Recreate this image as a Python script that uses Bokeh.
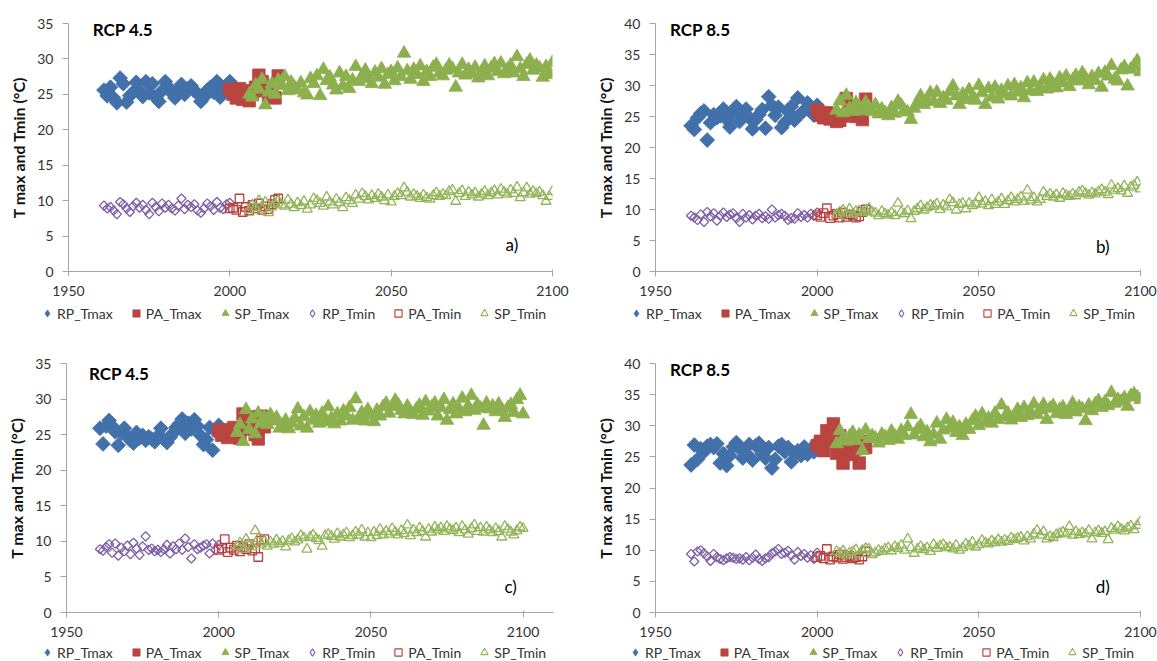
import numpy as np
from bokeh.plotting import figure
from bokeh.models import Range1d, FixedTicker, Legend, LegendItem, Label
from bokeh.layouts import column, row
from bokeh.embed import file_html
from bokeh.resources import INLINE

RP_START = 1961
PA_START = 2000
SP_START = 2006

X_TICKS = [1950, 2000, 2050, 2100]
SERIES_NAMES = ["RP_Tmax", "PA_Tmax", "SP_Tmax", "RP_Tmin", "PA_Tmin", "SP_Tmin"]

# ---------------- Panel a (RCP 4.5, top) ----------------
a_rp_tmax = [25.6, 24.8, 26.0, 24.5, 23.8, 27.3, 26.5, 23.9, 24.8, 25.3,
             26.7, 25.5, 24.7, 26.8, 25.2, 26.5, 24.6, 24.0, 25.5, 26.8,
             26.0, 25.2, 24.5, 25.6, 26.4, 25.0, 25.8, 26.2, 25.5, 25.1,
             24.0, 24.6, 25.6, 26.0, 25.3, 26.8, 24.6, 25.8, 26.2, 26.8]
a_pa_tmax = [25.7, 25.0, 24.5, 25.8, 24.3, 25.5, 24.1, 25.0, 26.0, 27.7,
             26.8, 25.5, 24.8, 25.2, 24.5, 27.6]
a_sp_tmax = [25.0, 24.6, 26.3, 25.7, 27.1, 23.5, 25.3, 26.5, 25.0, 27.0,
             26.2, 27.5, 25.5, 26.7, 26.0, 25.6, 26.6, 25.2, 24.9, 27.2,
             26.5, 27.6, 24.8, 28.5, 26.9, 27.4, 26.3, 25.6, 28.0, 26.2,
             27.5, 25.8, 27.0, 28.9, 26.8, 27.6, 28.4, 27.2, 26.5, 28.1,
             27.4, 28.6, 26.4, 27.8, 28.2, 26.9, 28.7, 27.5, 30.8, 28.3,
             27.1, 28.5, 27.8, 29.0, 26.8, 28.2, 27.5, 28.8, 29.2, 28.0,
             27.6, 28.4, 29.1, 28.6, 26.0, 28.0, 29.2, 27.7, 28.5, 27.9,
             28.8, 27.3, 28.1, 29.0, 27.6, 28.7, 29.3, 28.2, 29.4, 27.9,
             28.5, 29.1, 28.0, 30.3, 28.6, 27.5, 29.2, 29.8, 28.4, 29.1,
             28.7, 27.4, 28.9, 27.8, 29.5]
a_rp_tmin = [9.3, 8.9, 9.1, 8.6, 8.1, 9.8, 9.5, 8.9, 8.4, 9.2,
             9.7, 9.0, 9.4, 8.7, 8.1, 9.7, 9.1, 8.5, 9.6, 9.0,
             9.4, 8.9, 8.6, 9.3, 10.3, 8.8, 9.4, 9.1, 9.5, 8.6,
             8.3, 8.9, 9.6, 9.2, 8.7, 9.8, 9.0, 8.8, 9.5, 9.7]
a_pa_tmin = [8.9, 9.0, 8.7, 10.3, 8.4, 9.1, 8.6, 9.4, 8.9, 9.6,
             8.7, 9.2, 8.8, 9.5, 10.1, 10.3]
a_sp_tmin = [8.7, 9.4, 9.0, 10.0, 8.8, 9.8, 8.3, 9.1, 9.6, 10.0,
             9.4, 9.2, 10.1, 9.5, 9.0, 9.7, 9.3, 9.9, 8.8, 9.4,
             10.3, 10.0, 9.6, 9.2, 10.5, 9.8, 9.4, 10.2, 9.7, 9.0,
             10.4, 10.0, 9.6, 10.8, 10.2, 11.0, 10.6, 10.1, 10.7, 10.3,
             10.9, 10.5, 10.0, 10.8, 9.8, 10.6, 11.0, 10.7, 11.8, 11.2,
             10.5, 10.9, 10.6, 10.3, 10.8, 10.4, 10.2, 10.7, 11.1, 10.6,
             10.9, 10.7, 11.3, 11.5, 9.9, 11.0, 11.4, 10.6, 11.2, 10.8,
             11.1, 10.5, 10.9, 11.3, 10.7, 11.1, 11.4, 10.8, 11.6, 11.2,
             10.9, 11.5, 11.0, 11.9, 10.4, 11.1, 11.8, 10.9, 11.3, 11.0,
             11.2, 10.7, 9.9, 10.6, 11.3]

# ---------------- Panel b (RCP 8.5, top) ----------------
b_rp_tmax = [23.5, 22.9, 24.8, 25.5, 25.9, 21.2, 24.0, 25.3, 24.8, 25.1,
             26.2, 24.5, 23.3, 25.6, 26.6, 24.2, 25.1, 26.2, 24.8, 23.0,
             24.5, 25.3, 26.1, 23.1, 28.2, 26.8, 25.2, 26.5, 23.2, 24.0,
             25.8, 26.6, 24.4, 28.0, 25.5, 26.0, 27.2, 26.5, 25.2, 26.8]
b_pa_tmax = [26.0, 25.2, 24.8, 25.6, 24.6, 25.3, 24.2, 24.4, 25.1, 27.9,
             26.2, 25.5, 25.0, 26.7, 24.5, 27.8]
b_sp_tmax = [26.0, 27.5, 25.6, 28.4, 26.3, 25.8, 27.2, 26.6, 25.9, 27.3,
             26.5, 25.8, 26.9, 25.4, 26.2, 25.6, 25.1, 26.4, 25.5, 27.4,
             26.8, 26.0, 25.7, 24.5, 26.3, 27.3, 28.3, 26.9, 27.6, 28.8,
             27.4, 28.9, 27.1, 28.0, 27.6, 29.0, 29.9, 28.3, 26.9, 28.6,
             27.7, 29.3, 28.1, 27.6, 30.0, 28.8, 26.9, 29.5, 28.1, 29.7,
             27.8, 29.2, 28.6, 29.9, 28.3, 30.1, 28.9, 29.6, 28.0, 30.4,
             29.1, 30.5, 29.0, 29.7, 30.9, 29.4, 31.0, 30.2, 29.6, 31.2,
             30.4, 31.5, 29.8, 30.9, 31.6, 30.7, 32.0, 31.2, 30.1, 31.4,
             30.8, 31.9, 29.7, 32.1, 31.5, 33.2, 31.0, 30.7, 32.5, 33.0,
             29.9, 32.6, 33.2, 34.0, 32.2]
b_rp_tmin = [9.0, 8.7, 8.3, 9.2, 8.0, 9.6, 8.9, 9.4, 8.2, 9.0,
             9.5, 8.8, 9.2, 9.4, 8.6, 8.0, 9.3, 8.7, 9.1, 8.4,
             9.0, 9.3, 8.6, 8.9, 8.5, 10.0, 8.7, 9.1, 9.3, 9.0,
             8.3, 8.6, 8.5, 9.4, 8.8, 9.1, 8.7, 9.3, 9.0, 9.5]
b_pa_tmin = [9.1, 8.8, 9.4, 10.2, 8.6, 9.0, 9.3, 8.7, 9.5, 8.8,
             9.2, 9.0, 8.7, 8.9, 9.6, 10.0]
b_sp_tmin = [9.2, 9.6, 9.9, 9.4, 10.1, 9.3, 9.7, 9.8, 9.5, 9.9,
             10.2, 9.6, 9.4, 9.0, 9.7, 9.3, 9.1, 9.5, 9.0, 11.0,
             9.6, 9.3, 9.8, 8.5, 9.7, 10.1, 10.6, 9.9, 10.3, 10.7,
             10.5, 10.9, 10.0, 10.7, 10.4, 11.6, 11.1, 9.9, 10.8, 11.0,
             10.1, 11.0, 10.6, 10.9, 11.9, 10.9, 11.3, 10.6, 11.6, 10.8,
             11.2, 11.7, 10.8, 11.4, 11.9, 11.2, 11.6, 12.0, 11.3, 13.1,
             11.5, 11.9, 11.2, 11.6, 12.8, 12.1, 12.5, 12.0, 12.4, 11.8,
             12.6, 12.3, 12.1, 12.5, 12.2, 12.8, 13.0, 12.6, 12.3, 12.7,
             12.5, 12.9, 13.2, 12.8, 12.4, 13.9, 13.1, 13.4, 13.0, 13.8,
             12.6, 13.6, 13.9, 14.4, 13.3]

# ---------------- Panel c (RCP 4.5, bottom) ----------------
c_rp_tmax = [25.9, 23.7, 26.2, 27.0, 26.2, 25.4, 23.5, 25.2, 25.9, 24.8,
             24.2, 23.8, 25.3, 24.5, 24.9, 24.2, 24.7, 24.4, 24.0, 24.8,
             25.9, 24.3, 23.9, 24.6, 25.2, 26.0, 26.5, 27.2, 25.2, 26.6,
             25.8, 27.1, 26.2, 24.9, 23.6, 24.3, 26.0, 22.8, 25.5, 26.3]
c_pa_tmax = [25.6, 24.9, 25.7, 24.6, 25.4, 26.0, 25.1, 24.5, 27.9, 25.8,
             26.8, 27.5, 25.0, 24.4, 27.6, 26.1]
c_sp_tmax = [25.3, 26.4, 24.0, 28.5, 25.7, 27.2, 25.1, 28.0, 26.6, 27.5,
             26.4, 27.8, 26.9, 27.4, 25.9, 26.3, 27.0, 25.8, 26.6, 27.3,
             28.6, 26.2, 27.5, 25.9, 28.2, 27.0, 27.7, 26.6, 28.0, 26.8,
             28.9, 27.3, 26.5, 27.9, 26.9, 28.3, 27.6, 28.8, 27.0, 30.0,
             27.3, 28.1, 26.9, 28.5, 27.7, 26.8, 28.4, 27.6, 28.9, 29.4,
             28.0, 28.9, 29.8, 29.2, 28.4, 27.9, 29.0, 28.2, 27.8, 28.6,
             29.1, 27.7, 29.6, 28.3, 28.9, 29.4, 27.6, 28.8, 29.9, 27.0,
             28.5, 29.3, 27.9, 28.6, 30.1, 28.2, 29.0, 30.5, 28.4, 29.2,
             28.7, 26.3, 29.4, 28.6, 29.0, 28.2, 29.3, 28.5, 27.4, 28.8,
             29.2, 28.1, 29.9, 30.5, 27.9]
c_rp_tmin = [8.9, 8.7, 9.2, 9.6, 8.4, 9.7, 8.0, 9.1, 8.6, 9.4,
             8.2, 9.8, 9.0, 8.1, 9.3, 10.7, 8.8, 9.0, 8.6, 8.8,
             8.5, 8.9, 9.5, 8.3, 9.3, 8.9, 9.7, 8.8, 10.4, 9.2,
             7.6, 9.6, 8.9, 9.1, 9.4, 9.6, 8.3, 9.7, 8.8, 9.5]
c_pa_tmin = [8.8, 9.0, 10.3, 8.5, 9.1, 8.8, 9.4, 8.6, 9.2, 8.9,
             9.6, 8.7, 9.0, 7.8, 10.1, 10.3]
c_sp_tmin = [9.3, 9.8, 8.9, 10.3, 9.5, 9.2, 11.5, 10.4, 9.6, 10.0,
             9.3, 9.9, 9.6, 10.2, 9.7, 10.0, 9.2, 10.1, 10.4, 9.9,
             10.2, 10.8, 10.5, 8.9, 10.6, 10.9, 10.4, 10.1, 9.3, 10.8,
             11.0, 10.7, 10.3, 11.1, 10.6, 10.9, 11.2, 10.5, 10.8, 11.3,
             10.9, 11.6, 10.6, 11.2, 10.5, 11.3, 10.8, 11.7, 10.9, 11.4,
             11.0, 11.8, 11.3, 10.9, 11.5, 11.1, 12.3, 10.8, 11.6, 11.2,
             11.9, 11.4, 10.6, 11.7, 11.3, 12.0, 11.6, 11.9, 11.4, 12.1,
             11.7, 11.5, 11.9, 11.2, 12.1, 11.6, 11.0, 11.8, 12.3, 11.4,
             11.9, 11.3, 12.0, 11.6, 11.2, 11.8, 11.4, 10.6, 12.1, 11.7,
             11.3, 10.9, 11.5, 12.0, 11.8]

# ---------------- Panel d (RCP 8.5, bottom) ----------------
d_rp_tmax = [23.7, 26.9, 24.6, 26.3, 25.8, 26.7, 27.0, 26.5, 27.1, 24.0,
             25.5, 23.6, 25.2, 26.6, 27.3, 26.3, 24.8, 25.6, 27.0, 24.5,
             26.8, 27.2, 25.5, 24.8, 26.5, 23.2, 24.6, 26.7, 27.0, 25.8,
             26.5, 24.2, 25.6, 26.0, 25.2, 26.6, 25.4, 26.2, 25.8, 27.3]
d_pa_tmax = [26.8, 27.5, 26.0, 29.2, 27.3, 30.3, 25.6, 28.4, 24.0, 26.0,
             27.2, 25.4, 26.3, 24.0, 27.5, 26.5]
d_sp_tmax = [27.1, 29.2, 28.0, 27.5, 28.3, 28.9, 27.6, 28.5, 26.0, 29.3,
             27.9, 28.4, 28.0, 27.2, 28.6, 28.2, 27.6, 29.1, 28.3, 27.8,
             29.2, 28.4, 29.8, 31.8, 28.5, 29.4, 30.0, 28.2, 29.0, 27.4,
             28.6, 30.4, 27.8, 29.3, 31.0, 29.6, 30.5, 28.9, 29.8, 28.4,
             30.2, 29.4, 30.8, 31.5, 30.0, 31.9, 30.6, 31.2, 30.4, 32.0,
             31.0, 33.3, 31.4, 32.0, 30.9, 31.7, 32.6, 31.3, 32.9, 31.6,
             32.2, 33.5, 31.8, 32.5, 33.4, 31.0, 32.8, 33.2, 31.9, 32.6,
             33.0, 31.8, 32.4, 33.6, 32.2, 33.0, 32.7, 30.8, 33.3, 32.4,
             33.5, 34.0, 32.9, 33.8, 33.2, 35.3, 33.6, 34.2, 33.9, 34.5,
             33.1, 34.8, 35.1, 34.6, 34.2]
d_rp_tmin = [9.4, 8.2, 9.8, 10.0, 9.5, 9.0, 8.3, 9.4, 8.9, 8.6,
             8.4, 8.7, 8.9, 8.8, 8.6, 8.7, 8.5, 8.9, 8.4, 8.8,
             9.3, 8.6, 8.3, 8.7, 8.9, 9.5, 9.8, 10.2, 9.4, 9.6,
             9.9, 9.2, 8.5, 9.7, 9.1, 9.4, 8.8, 9.2, 8.6, 9.6]
d_pa_tmin = [8.9, 9.1, 8.7, 10.2, 8.5, 9.0, 8.8, 9.3, 8.6, 8.9,
             9.1, 8.7, 8.9, 8.5, 9.0, 9.8]
d_sp_tmin = [9.8, 9.5, 9.9, 9.2, 9.6, 9.8, 10.1, 9.4, 10.0, 10.3,
             10.2, 9.3, 9.6, 10.0, 9.8, 10.2, 10.4, 9.9, 10.6, 10.3,
             10.8, 10.0, 11.8, 10.4, 9.5, 10.2, 10.6, 10.1, 10.4, 9.8,
             10.9, 10.3, 10.7, 10.9, 10.4, 10.5, 10.2, 10.8, 10.0, 10.4,
             11.0, 10.7, 11.3, 10.5, 10.9, 11.6, 11.2, 11.0, 11.5, 11.2,
             11.7, 11.3, 11.6, 11.4, 12.0, 11.7, 11.9, 12.1, 11.5, 12.2,
             11.8, 12.6, 13.2, 12.4, 13.0, 11.8, 12.2, 12.0, 12.5, 12.7,
             12.9, 12.6, 13.8, 12.4, 13.0, 12.5, 12.8, 12.6, 13.2, 11.8,
             12.8, 13.1, 12.7, 13.0, 11.7, 13.5, 13.2, 13.8, 13.4, 13.1,
             13.6, 13.9, 13.3, 14.0, 14.6]

FONT = "Lato"
TXT = "#333333"
AXIS_COL = "#A6A6A6"
C_BLUE = "#4170AA"
C_RED = "#BA4440"
C_GREEN = "#8DB04E"
C_PURPLE = "#7E60A6"
C_RED_O = "#B8403C"
C_GREEN_O = "#93B55A"

STYLES = [
    dict(marker="square", angle=np.pi / 4, size=10.5, fill_color=C_BLUE,
         line_color=C_BLUE, line_width=0.8),
    dict(marker="square", size=12.5, fill_color=C_RED, line_color=C_RED,
         line_width=0.8),
    dict(marker="triangle", size=13.5, fill_color=C_GREEN,
         line_color=C_GREEN, line_width=0.8),
    dict(marker="square", angle=np.pi / 4, size=6.5, fill_color=None,
         line_color=C_PURPLE, line_width=1.3),
    dict(marker="square", size=8.5, fill_color=None, line_color=C_RED_O,
         line_width=1.3),
    dict(marker="triangle", size=10, fill_color=None, line_color=C_GREEN_O,
         line_width=1.3),
]

# legend keys: Bokeh draws legend keys unrotated, so diamonds use "diamond"
LEGEND_STYLES = [
    dict(marker="diamond", fill_color=C_BLUE, line_color=C_BLUE, line_width=0.8),
    dict(marker="square", fill_color=C_RED, line_color=C_RED, line_width=0.8),
    dict(marker="triangle", fill_color=C_GREEN, line_color=C_GREEN, line_width=0.8),
    dict(marker="diamond", fill_color=None, line_color=C_PURPLE, line_width=1.1),
    dict(marker="square", fill_color=None, line_color=C_RED_O, line_width=1.1),
    dict(marker="triangle", fill_color=None, line_color=C_GREEN_O, line_width=1.1),
]


def years(start, vals):
    return list(range(start, start + len(vals)))


def panel_series(rp_tmax, pa_tmax, sp_tmax, rp_tmin, pa_tmin, sp_tmin):
    return [(RP_START, rp_tmax), (PA_START, pa_tmax), (SP_START, sp_tmax),
            (RP_START, rp_tmin), (PA_START, pa_tmin), (SP_START, sp_tmin)]


def make_panel(series, ymax, xmax, title, letter, width, height,
               bl, br, bt, bb, title_xy, letter_xy):
    p = figure(width=width, height=height, output_backend="svg",
               toolbar_location=None, frame_align=False,
               x_range=Range1d(1950, xmax), y_range=Range1d(0, ymax),
               min_border_left=bl, min_border_right=br,
               min_border_top=bt, min_border_bottom=bb)
    p.outline_line_color = None
    p.xgrid.visible = False
    p.ygrid.visible = False
    p.background_fill_color = "white"
    p.border_fill_color = "white"

    for ax in (p.xaxis[0], p.yaxis[0]):
        ax.axis_line_color = AXIS_COL
        ax.major_tick_line_color = AXIS_COL
        ax.minor_tick_line_color = None
        ax.major_label_text_font = FONT
        ax.major_label_text_font_size = "14px"
        ax.major_label_text_color = TXT
    p.xaxis.ticker = FixedTicker(ticks=X_TICKS)
    p.yaxis.ticker = FixedTicker(ticks=list(range(0, ymax + 1, 5)))
    p.xaxis.major_tick_in = 2
    p.xaxis.major_tick_out = 5
    p.xaxis.major_label_standoff = 9
    p.yaxis.major_tick_in = 0
    p.yaxis.major_tick_out = 6
    p.yaxis.major_label_standoff = 9
    p.yaxis.axis_label = "T max and Tmin (\u00b0C)"
    p.yaxis.axis_label_text_font = FONT
    p.yaxis.axis_label_text_font_style = "bold"
    p.yaxis.axis_label_text_font_size = "16px"
    p.yaxis.axis_label_text_color = "#111111"
    p.yaxis.axis_label_standoff = 6

    for (start, vals), st in zip(series, STYLES):
        p.scatter(years(start, vals), vals, **st)

    p.add_layout(Label(x=title_xy[0], y=title_xy[1], text=title,
                       text_font=FONT, text_font_style="bold",
                       text_font_size="17px", text_color="#000000",
                       text_baseline="middle", text_align="left"))
    p.add_layout(Label(x=letter_xy[0], y=letter_xy[1], text=letter,
                       text_font=FONT, text_font_size="17px",
                       text_color="#000000",
                       text_baseline="middle", text_align="center"))
    return p


def make_legend(series, width, height, lx, ly, gh):
    # legend-only strip; its renderers hold the same series, but the strip's
    # ranges keep them out of view so that only the legend keys show
    q = figure(width=width, height=height, output_backend="svg",
               toolbar_location=None, x_axis_location=None,
               y_axis_location=None, min_border=0, frame_align=False,
               x_range=Range1d(0, 1), y_range=Range1d(0, 1))
    q.outline_line_color = None
    q.xgrid.visible = False
    q.ygrid.visible = False
    rs = [q.scatter(years(start, vals), vals, size=1, **st)
          for (start, vals), st in zip(series, LEGEND_STYLES)]
    items = [LegendItem(label=n, renderers=[r], index=0)
             for n, r in zip(SERIES_NAMES, rs)]
    legend = Legend(items=items, orientation="horizontal",
                    location=(lx, ly), border_line_color=None,
                    background_fill_alpha=0, margin=0, padding=0,
                    spacing=14, glyph_width=18, glyph_height=gh,
                    label_height=gh, label_standoff=1,
                    label_text_font=FONT, label_text_font_size="14px",
                    label_text_color=TXT)
    q.add_layout(legend)
    return q


sa = panel_series(a_rp_tmax, a_pa_tmax, a_sp_tmax, a_rp_tmin, a_pa_tmin, a_sp_tmin)
sb = panel_series(b_rp_tmax, b_pa_tmax, b_sp_tmax, b_rp_tmin, b_pa_tmin, b_sp_tmin)
sc = panel_series(c_rp_tmax, c_pa_tmax, c_sp_tmax, c_rp_tmin, c_pa_tmin, c_sp_tmin)
sd = panel_series(d_rp_tmax, d_pa_tmax, d_sp_tmax, d_rp_tmin, d_pa_tmin, d_sp_tmin)

pa = make_panel(sa, 35, 2100, "RCP 4.5", "a)", 578, 304, 68, 26, 23, 33,
                (1957.5, 34.2), (2087.4, 3.8))
pb = make_panel(sb, 40, 2100, "RCP 8.5", "b)", 579, 304, 77, 17, 23, 33,
                (1954.5, 39.1), (2088.3, 4.0))
pc = make_panel(sc, 35, 2110, "RCP 4.5", "c)", 578, 313, 66, 25, 33, 31,
                (1957.4, 33.6), (2095.9, 3.7))
pd_ = make_panel(sd, 40, 2100, "RCP 8.5", "d)", 579, 313, 77, 17, 33, 31,
                 (1954.5, 39.0), (2088.3, 4.2))

la = make_legend(sa, 578, 26, 38, 7, 20)
lb = make_legend(sb, 579, 26, 49, 7, 20)
lc = make_legend(sc, 578, 18, 38, 0, 18)
ld = make_legend(sd, 579, 18, 48, 0, 18)

layout = column(row(column(pa, la), column(pb, lb)),
                row(column(pc, lc), column(pd_, ld)))
open("out.html", "w").write(file_html(layout, INLINE))
